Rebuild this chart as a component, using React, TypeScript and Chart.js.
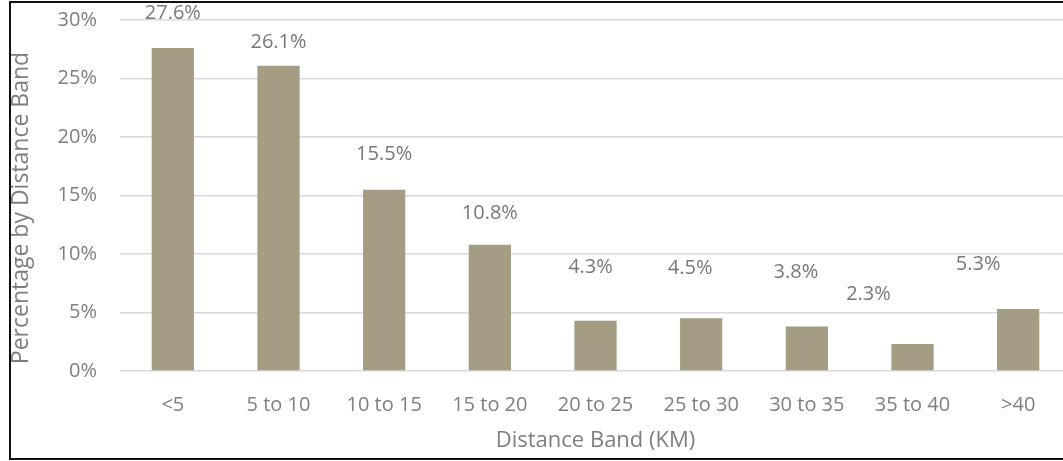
import React, { useEffect, useRef } from "react";
import { Chart, registerables } from "chart.js";

Chart.register(...registerables);

const categories = ["<5", "5 to 10", "10 to 15", "15 to 20", "20 to 25", "25 to 30", "30 to 35", "35 to 40", ">40"];
const percentages = [27.6, 26.1, 15.5, 10.8, 4.3, 4.5, 3.8, 2.3, 5.3];
const yTicks = [0, 5, 10, 15, 20, 25, 30];
const yTitle = "Percentage by Distance Band";
const xTitle = "Distance Band (KM)";
// label placement (style): horizontal shift and gap above the bar top, in px
const labelDx = [0, 0, 0, 0, -5, -11, -11, -44, -40];
const labelGap = [35, 23, 35, 31, 53, 50, 54, 50, 45];

const FONT = "'Open Sans', 'Noto Sans', sans-serif";
const TEXT = "#7f7f7f";

export default function App() {
  const ref = useRef<HTMLCanvasElement | null>(null);
  useEffect(() => {
    if (!ref.current) return;
    const labelPlugin = {
      id: "barLabels",
      afterDatasetsDraw(chart: any) {
        const ctx = chart.ctx;
        const meta = chart.getDatasetMeta(0);
        ctx.save();
        ctx.font = `20px ${FONT}`;
        ctx.fillStyle = "#787878";
        ctx.textAlign = "center";
        ctx.textBaseline = "middle";
        meta.data.forEach((el: any, i: number) => {
          ctx.fillText(percentages[i].toFixed(1) + "%", el.x + labelDx[i], el.y - labelGap[i]);
        });
        // y-axis title
        ctx.translate(21, 208);
        ctx.rotate(-Math.PI / 2);
        ctx.font = `23px ${FONT}`;
        ctx.fillStyle = TEXT;
        ctx.fillText(yTitle, 0, 0);
        ctx.restore();
      },
    };
    const chart = new Chart(ref.current, {
      type: "bar",
      data: {
        labels: categories,
        datasets: [
          {
            data: percentages,
            backgroundColor: "#a59c84",
            barPercentage: 0.4,
            categoryPercentage: 1,
          },
        ],
      },
      options: {
        animation: false,
        responsive: false,
        maintainAspectRatio: false,
        layout: { padding: { top: 20, right: 19, left: 0, bottom: 0 } },
        plugins: { legend: { display: false }, tooltip: { enabled: false } },
        scales: {
          x: {
            grid: { display: false },
            border: { display: false },
            ticks: { color: TEXT, font: { family: FONT, size: 20 }, padding: 14, maxRotation: 0, autoSkip: false },
            title: { display: true, text: xTitle, color: TEXT, font: { family: FONT, size: 22 }, padding: { top: 0, bottom: 7 } },
            afterFit(scale: any) {
              scale.height = 90;
              scale.paddingLeft = 0;
              scale.paddingRight = 0;
            },
          },
          y: {
            min: 0,
            max: 30,
            afterBuildTicks(scale: any) {
              scale.ticks = yTicks.map((v) => ({ value: v }));
            },
            grid: { color: "#d9d9d9", lineWidth: 1.5, drawTicks: false },
            border: { display: false },
            ticks: { color: TEXT, font: { family: FONT, size: 20 }, padding: 23, callback: (v: any) => v + "%" },
            title: { display: false },
            afterFit(scale: any) {
              scale.width = 120;
              scale.paddingTop = 0;
              scale.paddingBottom = 0;
            },
          },
        },
      },
      plugins: [labelPlugin],
    });
    return () => chart.destroy();
  }, []);
  return (
    <div>
      <div style={{ position: "fixed", left: 0, top: 0, width: 1090, height: 461 }}>
        <canvas ref={ref} width={1090} height={461} style={{ display: "block" }} />
      </div>
      <div
        style={{
          position: "fixed",
          left: 9,
          top: 1,
          width: 1100,
          height: 459,
          boxSizing: "border-box",
          border: "2px solid #111",
          borderRight: "none",
          pointerEvents: "none",
        }}
      />
    </div>
  );
}
